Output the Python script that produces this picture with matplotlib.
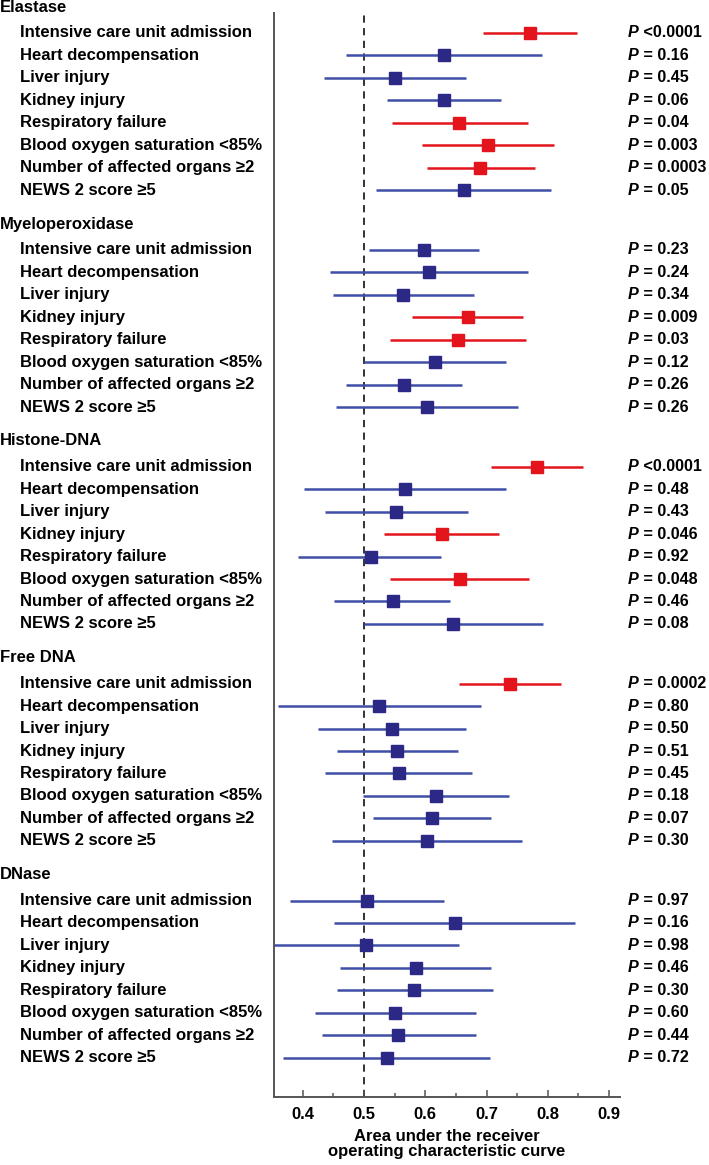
import matplotlib
matplotlib.use("Agg")
import matplotlib.pyplot as plt
import matplotlib.transforms as mtransforms

plt.rcParams['font.family'] = ['Liberation Sans', 'DejaVu Sans']
plt.rcParams['font.weight'] = 'bold'

GROUPS = ["Elastase", "Myeloperoxidase", "Histone-DNA", "Free DNA", "DNase"]
OUTCOMES = [
    "Intensive care unit admission",
    "Heart decompensation",
    "Liver injury",
    "Kidney injury",
    "Respiratory failure",
    "Blood oxygen saturation <85%",
    "Number of affected organs \u22652",
    "NEWS 2 score \u22655",
]

elastase_auc = [0.771, 0.630, 0.551, 0.630, 0.655, 0.702, 0.690, 0.663]
elastase_lo = [0.694, 0.470, 0.435, 0.538, 0.545, 0.594, 0.602, 0.519]
elastase_hi = [0.847, 0.790, 0.667, 0.723, 0.768, 0.810, 0.779, 0.806]
elastase_p = ["<0.0001", "0.16", "0.45", "0.06", "0.04", "0.003", "0.0003", "0.05"]

mpo_auc = [0.598, 0.606, 0.564, 0.669, 0.654, 0.616, 0.565, 0.602]
mpo_lo = [0.508, 0.445, 0.449, 0.579, 0.543, 0.500, 0.471, 0.454]
mpo_hi = [0.688, 0.767, 0.680, 0.760, 0.765, 0.732, 0.660, 0.751]
mpo_p = ["0.23", "0.24", "0.34", "0.009", "0.03", "0.12", "0.26", "0.26"]

histone_auc = [0.782, 0.566, 0.552, 0.627, 0.511, 0.657, 0.547, 0.646]
histone_lo = [0.707, 0.402, 0.436, 0.533, 0.392, 0.543, 0.451, 0.500]
histone_hi = [0.857, 0.731, 0.669, 0.720, 0.626, 0.769, 0.641, 0.792]
histone_p = ["<0.0001", "0.48", "0.43", "0.046", "0.92", "0.048", "0.46", "0.08"]

freedna_auc = [0.738, 0.525, 0.545, 0.554, 0.557, 0.617, 0.611, 0.603]
freedna_lo = [0.655, 0.360, 0.425, 0.455, 0.436, 0.498, 0.515, 0.448]
freedna_hi = [0.821, 0.691, 0.667, 0.654, 0.677, 0.737, 0.707, 0.758]
freedna_p = ["0.0002", "0.80", "0.50", "0.51", "0.45", "0.18", "0.07", "0.30"]

dnase_auc = [0.505, 0.648, 0.503, 0.584, 0.582, 0.550, 0.556, 0.537]
dnase_lo = [0.379, 0.451, 0.350, 0.460, 0.455, 0.420, 0.431, 0.368]
dnase_hi = [0.630, 0.844, 0.655, 0.707, 0.710, 0.682, 0.682, 0.706]
dnase_p = ["0.97", "0.16", "0.98", "0.46", "0.30", "0.60", "0.44", "0.72"]

AUC = [elastase_auc, mpo_auc, histone_auc, freedna_auc, dnase_auc]
LO = [elastase_lo, mpo_lo, histone_lo, freedna_lo, dnase_lo]
HI = [elastase_hi, mpo_hi, histone_hi, freedna_hi, dnase_hi]
PVAL = [elastase_p, mpo_p, histone_p, freedna_p, dnase_p]

RED = '#e3141c'
BLUE_LINE = '#3f4ea6'
BLUE_MARK = '#2c2886'
GROUP_STEP = 9.66
FS = 12
FS_P = 11.6

fig = plt.figure(figsize=(7.09, 11.65), dpi=100)
ax = fig.add_axes([273.5 / 709, 1 - 1097 / 1165, (620 - 273.5) / 709, (1097 - 13) / 1165])

lab_tr = mtransforms.blended_transform_factory(fig.transFigure, ax.transData)

for g, name in enumerate(GROUPS):
    y0 = g * GROUP_STEP
    ax.text(0.0, y0 - 1.15, name, transform=lab_tr, fontsize=FS, fontweight='bold',
            ha='left', va='center', clip_on=False)
    for k, outcome in enumerate(OUTCOMES):
        y = y0 + k
        p_str = PVAL[g][k]
        sig = float(p_str.lstrip('<')) < 0.05
        line_c = RED if sig else BLUE_LINE
        mark_c = RED if sig else BLUE_MARK
        ax.plot([LO[g][k], HI[g][k]], [y, y], color=line_c, lw=1.8,
                solid_capstyle='butt', zorder=2)
        ax.plot(AUC[g][k], y, marker='s', ms=8.8, color=mark_c, mec=mark_c,
                ls='none', zorder=3)
        ax.text(20 / 709, y, outcome, transform=lab_tr, fontsize=FS,
                fontweight='bold', ha='left', va='center', clip_on=False)
        pt = ax.text(628 / 709, y, "P", transform=lab_tr, fontsize=FS_P,
                     fontweight='bold', fontstyle='italic', ha='left',
                     va='center', clip_on=False)
        rest = " " + p_str if p_str.startswith('<') else " = " + p_str
        ax.annotate(rest, xy=(1, 0), xycoords=pt, fontsize=FS_P,
                    fontweight='bold', ha='left', va='bottom',
                    annotation_clip=False)

ax.axvline(0.5, color='#222222', lw=1.3, ls=(0, (4, 3)), zorder=1)

ax.set_xlim(0.352, 0.918)
last = (len(GROUPS) - 1) * GROUP_STEP + len(OUTCOMES) - 1
ax.set_ylim(last + 1.75, -0.89)

ax.set_xticks([0.4, 0.5, 0.6, 0.7, 0.8, 0.9])
ax.set_xticks([0.45, 0.55, 0.65, 0.75, 0.85], minor=True)
ax.set_xticklabels(["0.4", "0.5", "0.6", "0.7", "0.8", "0.9"], fontsize=FS,
                   fontweight='bold')
ax.tick_params(axis='x', which='major', direction='in', length=5, width=1.1,
               color='#555555', pad=7)
ax.tick_params(axis='x', which='minor', direction='in', length=3, width=1.1,
               color='#555555')
ax.set_yticks([])
for s in ['top', 'right']:
    ax.spines[s].set_visible(False)
for s in ['left', 'bottom']:
    ax.spines[s].set_color('#555555')
    ax.spines[s].set_linewidth(1.4)

ax.set_xlabel("Area under the receiver\noperating characteristic curve",
              fontsize=FS, fontweight='bold', labelpad=5, linespacing=1.05)

fig.savefig("out.png", dpi=100)
